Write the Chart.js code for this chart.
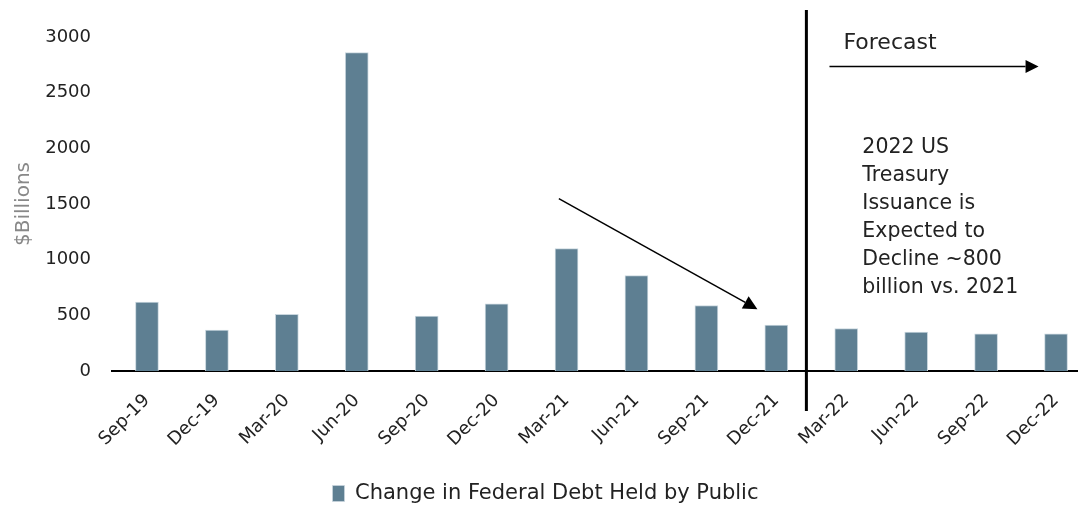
<!DOCTYPE html>
<html>
<head>
<meta charset="utf-8">
<script src="https://cdn.jsdelivr.net/npm/chart.js@4/dist/chart.umd.min.js"></script>
<style>
  html, body { margin: 0; padding: 0; background: #fff; overflow: hidden; }
  #wrap { width: 1092px; height: 508px; position: relative; }
</style>
</head>
<body>
<div id="wrap"><canvas id="debtChart"></canvas></div>
<script>
// Change in federal debt held by public, $ billions (quarterly)
const quarters = ['Sep-19','Dec-19','Mar-20','Jun-20','Sep-20','Dec-20','Mar-21','Jun-21','Sep-21','Dec-21','Mar-22','Jun-22','Sep-22','Dec-22'];
const debtChange = [618, 367, 510, 2860, 493, 603, 1099, 857, 588, 412, 382, 349, 334, 334];
const yTicks = [0, 500, 1000, 1500, 2000, 2500, 3000];
const noteLines = ['2022 US', 'Treasury', 'Issuance is', 'Expected to', 'Decline ~800', 'billion vs. 2021'];

const FONT = "'DejaVu Sans', sans-serif";
const BAR = '#5e7f92';

function arrow(ctx, x1, y1, x2, y2, head) {
    const a = Math.atan2(y2 - y1, x2 - x1);
    const bx = x2 - head * Math.cos(a), by = y2 - head * Math.sin(a);
    ctx.beginPath();
    ctx.moveTo(x1, y1);
    ctx.lineTo(bx, by);
    ctx.stroke();
    ctx.beginPath();
    ctx.moveTo(x2, y2);
    ctx.lineTo(bx + head * 0.5 * Math.sin(a), by - head * 0.5 * Math.cos(a));
    ctx.lineTo(bx - head * 0.5 * Math.sin(a), by + head * 0.5 * Math.cos(a));
    ctx.closePath();
    ctx.fill();
}

// forecast divider, arrows and the note
const notes = {
    id: 'notes',
    afterDraw(chart) {
        const { ctx, scales: { x, y } } = chart;
        ctx.save();
        ctx.strokeStyle = '#000';
        ctx.fillStyle = '#000';

        // divider between Dec-21 and Mar-22
        const dx = x.getPixelForValue(9.43);
        ctx.lineWidth = 3;
        ctx.beginPath();
        ctx.moveTo(dx, 10);
        ctx.lineTo(dx, y.bottom + 40);
        ctx.stroke();

        // downward trend arrow
        ctx.lineWidth = 1.5;
        arrow(ctx, x.getPixelForValue(5.89), y.getPixelForValue(1549),
                   x.getPixelForValue(8.73), y.getPixelForValue(555), 14);

        // forecast arrow
        arrow(ctx, x.getPixelForValue(9.76), y.getPixelForValue(2735),
                   x.getPixelForValue(12.75), y.getPixelForValue(2735), 13);

        ctx.fillStyle = '#222';
        ctx.textBaseline = 'middle';
        ctx.textAlign = 'left';
        ctx.font = '22px ' + FONT;
        ctx.fillText('Forecast', x.getPixelForValue(9.96), y.getPixelForValue(2941));

        ctx.font = '20.5px ' + FONT;
        const tx = x.getPixelForValue(10.23);
        const ty = y.getPixelForValue(2006);
        noteLines.forEach((line, i) => ctx.fillText(line, tx, ty + i * 28));
        ctx.restore();
    }
};

new Chart(document.getElementById('debtChart'), {
    type: 'bar',
    data: {
        labels: quarters,
        datasets: [{
            label: 'Change in Federal Debt Held by Public',
            data: debtChange,
            backgroundColor: BAR,
            borderColor: '#c9d6de',
            borderWidth: { top: 1, left: 1, right: 1, bottom: 0 },
            barThickness: 23
        }]
    },
    options: {
        responsive: true,
        maintainAspectRatio: false,
        animation: false,
        layout: { padding: { top: 37, right: 1, bottom: -6, left: 0 } },
        plugins: {
            legend: {
                position: 'bottom',
                labels: {
                    color: '#222',
                    font: { family: FONT, size: 21 },
                    boxWidth: 12,
                    boxHeight: 16,
                    padding: 4
                }
            },
            tooltip: { enabled: false }
        },
        scales: {
            x: {
                grid: { display: false, drawTicks: false },
                border: { display: true, color: '#000', width: 2 },
                ticks: {
                    color: '#222',
                    font: { family: FONT, size: 18 },
                    minRotation: 45,
                    maxRotation: 45,
                    padding: 19
                },
                afterFit: s => { s.height = 108; }
            },
            y: {
                min: 0,
                max: 3000,
                afterBuildTicks: s => { s.ticks = yTicks.map(v => ({ value: v })); },
                grid: { display: false, drawTicks: false },
                border: { display: false },
                ticks: {
                    color: '#222',
                    font: { family: FONT, size: 18 },
                    padding: 21,
                    callback: v => String(v)
                },
                title: {
                    display: true,
                    text: '$Billions',
                    color: '#888',
                    font: { family: FONT, size: 20 },
                    padding: { top: 12, bottom: 0 }
                },
                afterFit: s => { s.width = 112; }
            }
        }
    },
    plugins: [notes]
});
</script>
</body>
</html>
